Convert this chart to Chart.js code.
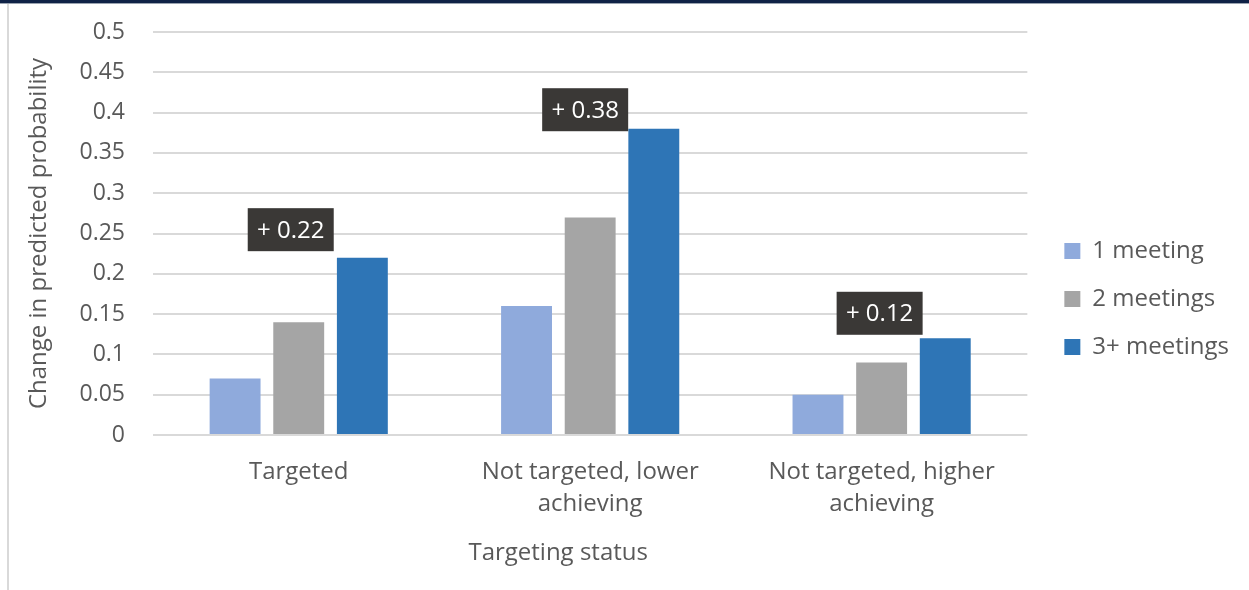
<!DOCTYPE html>
<html>
<head>
<meta charset="utf-8">
<script src="https://cdn.jsdelivr.net/npm/chart.js@4.4.1/dist/chart.umd.min.js"></script>
<style>
    html, body { margin: 0; padding: 0; background: #ffffff; }
    #wrap { position: relative; width: 1249px; height: 590px; }
    #topBand { position: absolute; left: 0; top: 0; width: 1249px; height: 3px; background: #0f2246; border-bottom: 1px solid #9aa3b0; }
    #leftRule { position: absolute; left: 7px; top: 4px; width: 2px; height: 586px; background: #d9d9d9; }
    canvas { position: absolute; left: 0; top: 0; }
</style>
</head>
<body>
<div id="wrap">
    <canvas id="impactChart" width="1249" height="590"></canvas>
    <div id="topBand"></div>
    <div id="leftRule"></div>
</div>
<script>
// Targeting status groups and the change in predicted probability per meeting count
const categories = [
    ['Targeted'],
    ['Not targeted, lower', 'achieving'],
    ['Not targeted, higher', 'achieving']
];
const seriesNames = ['1 meeting', '2 meetings', '3+ meetings'];
const oneMeeting = [0.07, 0.16, 0.05];
const twoMeetings = [0.14, 0.27, 0.09];
const threePlusMeetings = [0.22, 0.38, 0.12];
const yTicks = [0, 0.05, 0.1, 0.15, 0.2, 0.25, 0.3, 0.35, 0.4, 0.45, 0.5];

const textColor = '#595959';
const fontFamily = "'Open Sans', sans-serif";

Chart.defaults.color = textColor;
Chart.defaults.font.family = fontFamily;

// Dark callouts above each group showing the 3+ meetings value.
// Each one was nudged by hand, so keep the pixel nudges per group.
const calloutNudgeX = [-8, -5, -2];
const calloutNudgeY = [-28, -19, -25];
const calloutPlugin = {
    id: 'callouts',
    afterDatasetsDraw(chart) {
        const { ctx, scales: { x, y } } = chart;
        ctx.save();
        ctx.font = "24px " + fontFamily;
        ctx.textAlign = 'center';
        ctx.textBaseline = 'middle';
        threePlusMeetings.forEach((v, i) => {
            const cx = x.getPixelForValue(i) + calloutNudgeX[i];
            const cy = y.getPixelForValue(v) + calloutNudgeY[i];
            const w = 86, h = 43;
            ctx.fillStyle = '#3a3836';
            ctx.fillRect(cx - w / 2, cy - h / 2, w, h);
            ctx.fillStyle = '#ffffff';
            ctx.fillText('+ ' + v.toFixed(2), cx, cy + 1);
        });
        ctx.restore();
    }
};

// Axis title under the category labels
const xTitlePlugin = {
    id: 'xTitle',
    afterDraw(chart) {
        const { ctx, chartArea } = chart;
        ctx.save();
        ctx.font = "24px " + fontFamily;
        ctx.fillStyle = textColor;
        ctx.textAlign = 'center';
        ctx.textBaseline = 'middle';
        ctx.fillText('Targeting status', (chartArea.left + chartArea.right) / 2 - 32, 553);
        ctx.restore();
    }
};

const ctx = document.getElementById('impactChart').getContext('2d');
new Chart(ctx, {
    type: 'bar',
    data: {
        labels: categories,
        datasets: [
            { label: seriesNames[0], data: oneMeeting, backgroundColor: '#8faadc' },
            { label: seriesNames[1], data: twoMeetings, backgroundColor: '#a5a5a5' },
            { label: seriesNames[2], data: threePlusMeetings, backgroundColor: '#2e75b6' }
        ]
    },
    options: {
        responsive: false,
        animation: false,
        layout: { padding: { top: 24, left: 15, right: 10, bottom: 16 } },
        datasets: { bar: { categoryPercentage: 0.655, barPercentage: 0.8 } },
        plugins: {
            tooltip: { enabled: false },
            legend: {
                position: 'right',
                align: 'center',
                labels: {
                    boxWidth: 16,
                    boxHeight: 16,
                    padding: 24,
                    color: textColor,
                    font: { size: 24 }
                }
            }
        },
        scales: {
            x: {
                grid: { display: false, drawTicks: false },
                border: { display: false },
                ticks: { padding: 21, font: { size: 24, lineHeight: 1.333 }, maxRotation: 0, autoSkip: false },
                afterFit(s) { s.height = 139; }
            },
            y: {
                min: 0,
                max: 0.5,
                afterBuildTicks(s) { s.ticks = yTicks.map(v => ({ value: v })); },
                grid: { color: '#d9d9d9', lineWidth: 2, drawTicks: false },
                border: { display: false },
                ticks: {
                    padding: 28,
                    font: { size: 23 },
                    callback: v => String(v)
                },
                title: {
                    display: true,
                    text: 'Change in predicted probability',
                    font: { size: 24 },
                    padding: { top: 10, bottom: 0 }
                },
                afterFit(s) {
                    s.width = 138;
                    // keep the top gridline 32px below the canvas edge
                    s.paddingTop = 32;
                }
            },
            // spacer between the plot and the legend
            gap: {
                position: 'right',
                display: true,
                grid: { display: false, drawTicks: false },
                border: { display: false },
                ticks: { display: false },
                afterFit(s) { s.width = 13; s.paddingTop = 0; }
            }
        }
    },
    plugins: [calloutPlugin, xTitlePlugin]
});
</script>
</body>
</html>
